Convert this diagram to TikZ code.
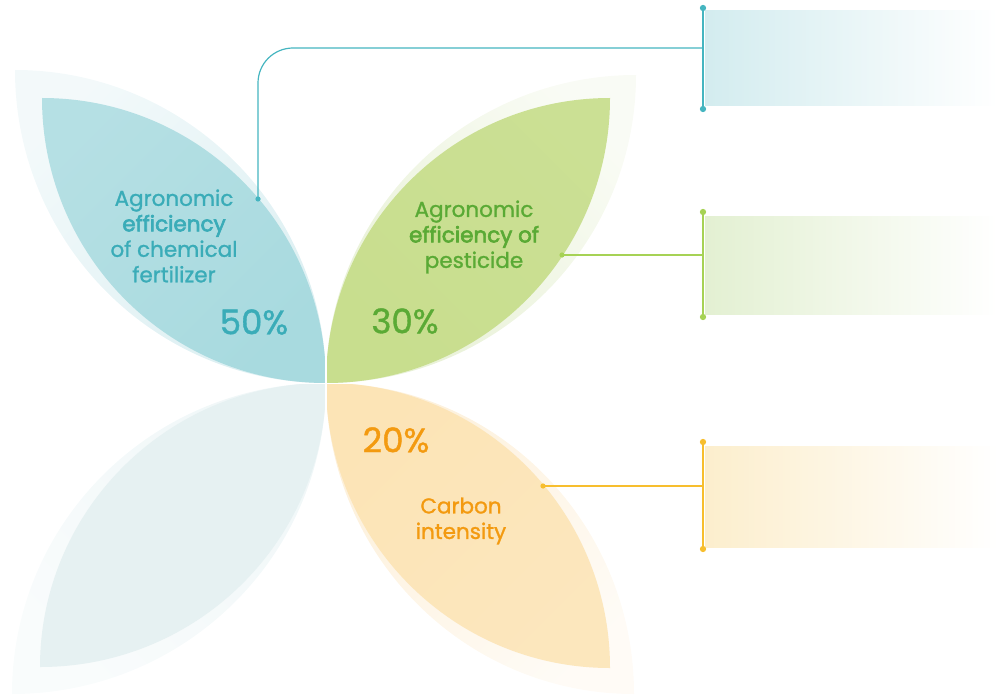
\documentclass[tikz,border=0pt]{standalone}
\usepackage{fontspec}
\setmainfont{Poppins}
\newfontfamily\medfont{Poppins}[FakeBold=1.1]
\newfontfamily\semifont{Poppins}[FakeBold=2.8]
\usetikzlibrary{calc}
\definecolor{tealmain}{HTML}{A8DADF}
\definecolor{tealout}{HTML}{DCEFF2}
\definecolor{tealtext}{HTML}{3AACB8}
\definecolor{tealline}{HTML}{45B5C0}
\definecolor{tealbox}{HTML}{D3ECEF}
\definecolor{greenmain}{HTML}{C8DE8E}
\definecolor{greenout}{HTML}{E8F1D6}
\definecolor{greentext}{HTML}{5AAA35}
\definecolor{greenline}{HTML}{A6D255}
\definecolor{greenbox}{HTML}{E3F0D2}
\definecolor{orangemain}{HTML}{FCE4B6}
\definecolor{orangeout}{HTML}{FDF0DA}
\definecolor{orangetext}{HTML}{F39A10}
\definecolor{orangeline}{HTML}{F7BE2E}
\definecolor{orangebox}{HTML}{FCEECD}
\definecolor{greymain}{HTML}{E6F1F2}
\definecolor{greyout}{HTML}{F0F7F8}
\tikzset{
  leaf/.style n args={4}{insert path={(#1,#2) .. controls ({#1+0.5523*(#3-#1)},#2) and (#3,{#4-0.5523*(#4-#2)}) .. (#3,#4) .. controls ({#3-0.5523*(#3-#1)},#4) and (#1,{#2+0.5523*(#4-#2)}) .. (#1,#2) -- cycle}},
  label/.style={align=center, font=\medfont\fontsize{21.5}{25.5}\selectfont, inner sep=0pt},
  pct/.style={font=\medfont\fontsize{34}{34}\selectfont, inner sep=0pt},
  conn/.style={line width=1.2pt},
  bar/.style={line width=1.6pt},
  endring/.style={line width=1pt, fill=white},
}
\begin{document}
\begin{tikzpicture}[x=1pt,y=-1pt]
\useasboundingbox (0,0) rectangle (998,695);
% outer leaves
\shade[leaf={15}{70}{326}{383}, top color=tealout!35!white, bottom color=tealout, shading angle=45];
\shade[leaf={636}{75}{326}{383}, top color=greenout!25!white, bottom color=greenout, shading angle=-45];
\shade[leaf={634}{694}{326}{383}, top color=orangeout!25!white, bottom color=orangeout, shading angle=-135];
\shade[leaf={12}{694}{326}{383}, top color=greyout!40!white, bottom color=greyout, shading angle=135];
% main leaves
\shade[leaf={42}{98}{326}{383}, top color=tealmain!85!white, bottom color=tealmain, shading angle=45];
\shade[leaf={610}{98}{326}{383}, top color=greenmain!95!white, bottom color=greenmain, shading angle=-45];
\shade[leaf={610}{668}{326}{383}, top color=orangemain!90!white, bottom color=orangemain, shading angle=-135];
\shade[leaf={40}{667}{326}{383}, top color=greymain, bottom color=greymain, shading angle=135];
% gaps
\draw[white, line width=1.6pt] (326,330) -- (326,436);
\draw[white, line width=1.6pt] (273,383.5) -- (379,383.5);
% texts
\node[label, text=tealtext] (t1) at (174,236) {Agronomic\\{\semifont efficiency}\\of chemical\\fertilizer};
\node[pct, text=tealtext] (p1) at (254,322) {50\%};
\node[label, text=greentext] (t2) at (474,237) {Agronomic\\{\semifont efficiency of}\\pesticide};
\node[pct, text=greentext] (p2) at (405,321) {30\%};
\node[pct, text=orangetext] (p3) at (396,440) {20\%};
\node[label, text=orangetext] (t3) at (461,521) {Carbon\\intensity};
% boxes
\shade[left color=tealbox, right color=white] (705,11) rectangle (998,106);
\shade[left color=greenbox, right color=white] (705,216) rectangle (998,314);
\shade[left color=orangebox, right color=white] (705,446) rectangle (998,547);
% bars
\coordinate (b1t) at (703,8); \coordinate (b1b) at (703,109); \coordinate (b1m) at (703,48);
\coordinate (b2t) at (703,212); \coordinate (b2b) at (703,317); \coordinate (b2m) at (703,255);
\coordinate (b3t) at (703,442); \coordinate (b3b) at (703,549); \coordinate (b3m) at (703,486);
\coordinate (d1) at (258,199); \coordinate (d2) at (562,255); \coordinate (d3) at (543,486);
\draw[bar, tealline] (b1t) -- (b1b);
\draw[bar, greenline] (b2t) -- (b2b);
\draw[bar, orangeline] (b3t) -- (b3b);
\draw[conn, tealline, rounded corners=35pt] (d1) |- (b1m);
\draw[conn, greenline] (d2) -- (b2m);
\draw[conn, orangeline] (d3) -- (b3m);
\fill[tealline] (d1) circle (2.6);
\fill[greenline] (d2) circle (2.6);
\fill[orangeline] (d3) circle (2.6);
\draw[endring, tealline] (b1t) circle (2.6) (b1b) circle (2.6);
\draw[endring, greenline] (b2t) circle (2.6) (b2b) circle (2.6);
\draw[endring, orangeline] (b3t) circle (2.6) (b3b) circle (2.6);
\end{tikzpicture}
\end{document}
